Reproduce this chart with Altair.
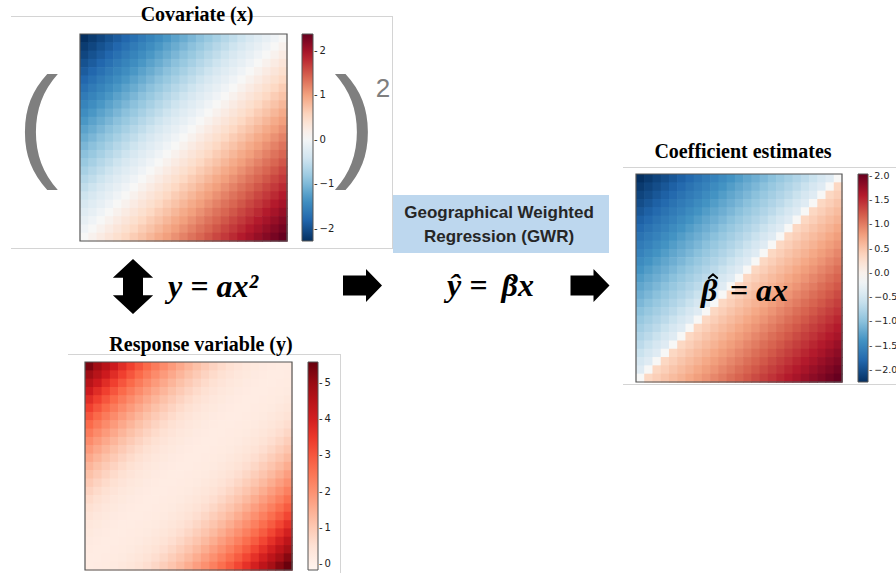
import altair as alt
import pandas as pd

N = 25  # grid cells per side

# values along each anti-diagonal (row + col = k, k = 0..48)
cov_diag = [-2.27, -2.17, -2.08, -1.98, -1.89, -1.79, -1.69, -1.59, -1.50, -1.40,
            -1.30, -1.20, -1.11, -1.01, -0.91, -0.82, -0.72, -0.62, -0.53, -0.43,
            -0.33, -0.23, -0.14, -0.04, 0.06, 0.15, 0.25, 0.35, 0.44, 0.54,
            0.64, 0.73, 0.83, 0.93, 1.02, 1.12, 1.22, 1.32, 1.41, 1.51,
            1.61, 1.70, 1.80, 1.90, 1.99, 2.09, 2.19, 2.28, 2.38]
resp_diag = [5.35, 4.90, 4.50, 4.10, 3.72, 3.36, 3.02, 2.70, 2.40, 2.12,
             1.85, 1.60, 1.37, 1.16, 0.97, 0.80, 0.65, 0.52, 0.41, 0.32,
             0.25, 0.20, 0.17, 0.15, 0.15, 0.16, 0.18, 0.22, 0.28, 0.36,
             0.46, 0.58, 0.73, 0.90, 1.08, 1.29, 1.52, 1.77, 2.03, 2.31,
             2.61, 2.92, 3.26, 3.62, 3.98, 4.38, 4.80, 5.20, 5.55]
coef_diag = [-2.25, -2.17, -2.09, -2.02, -1.94, -1.86, -1.78, -1.70, -1.62, -1.55,
             -1.47, -1.39, -1.31, -1.23, -1.16, -1.08, -1.00, -0.92, -0.84, -0.76,
             -0.68, -0.58, -0.48, -0.38, -0.10, 0.35, 0.42, 0.50, 0.57, 0.64,
             0.72, 0.79, 0.86, 0.94, 1.01, 1.09, 1.16, 1.23, 1.31, 1.38,
             1.45, 1.53, 1.60, 1.67, 1.75, 1.82, 1.89, 1.97, 2.04]

cov_ticks = [-2, -1, 0, 1, 2]
resp_ticks = [0, 1, 2, 3, 4, 5]
coef_ticks = [-2.0, -1.5, -1.0, -0.5, 0.0, 0.5, 1.0, 1.5, 2.0]

cov_domain = [-2.27, 2.38]
resp_domain = [-0.17, 5.58]
coef_domain = [-2.25, 2.04]

# matplotlib colormaps (ColorBrewer RdBu reversed, Reds)
RDBU_R = ["#053061", "#2166ac", "#4393c3", "#92c5de", "#d1e5f0", "#f7f7f7",
          "#fddbc7", "#f4a582", "#d6604d", "#b2182b", "#67001f"]
REDS = ["#fff5f0", "#fee0d2", "#fcbba1", "#fc9272", "#fb6a4a", "#ef3b2c",
        "#cb181d", "#a50f15", "#67000d"]

W, H = 896, 573


def grid(diag):
    recs = []
    for r in range(N):
        for c in range(N):
            recs.append({"row": r, "col": c, "value": diag[r + c]})
    return pd.DataFrame(recs)


def stops(domain, n):
    lo, hi = domain
    return [lo + (hi - lo) * i / (n - 1) for i in range(n)]


def heat(diag, x0, x1, y0, y1, colors, domain, cb_x, cb_w, ticks, fmt, lsize=10):
    lab = "'-\u2009' + replace(format(datum.value, '%s'), '-', '\u2212')" % fmt
    return alt.Chart(grid(diag)).transform_calculate(
        col2="datum.col + 1.08", row2="datum.row + 1.08"
    ).mark_rect(strokeWidth=0).encode(
        x=alt.X("col:Q", scale=alt.Scale(domain=[0, N], range=[x0, x1], nice=False, zero=False), axis=None),
        x2="col2:Q",
        y=alt.Y("row:Q", scale=alt.Scale(domain=[0, N], range=[y0, y1], nice=False, zero=False), axis=None),
        y2="row2:Q",
        color=alt.Color(
            "value:Q",
            scale=alt.Scale(domain=stops(domain, len(colors)), range=colors, nice=False, zero=False,
                            interpolate="rgb"),
            legend=alt.Legend(
                orient="none", legendX=cb_x, legendY=y0, direction="vertical",
                gradientLength=y1 - y0, gradientThickness=cb_w, title=None,
                values=ticks, labelExpr=lab, labelFontSize=lsize, labelFont="DejaVu Sans",
                labelColor="#222222", labelOffset=1, gradientStrokeColor="#555555",
                gradientStrokeWidth=1, padding=0,
            ),
        ),
    )


ONE = alt.Data(values=[{"k": 1}])


def box(x0, x1, y0, y1, fill="white", stroke="#d4d4d4", sw=1.0, fo=1.0):
    return alt.Chart(ONE).mark_rect(fill=fill, fillOpacity=fo, stroke=stroke, strokeWidth=sw).encode(
        x=alt.value(x0), x2=alt.value(x1), y=alt.value(y0), y2=alt.value(y1))


def line(x0, x1, y0, y1, color="#d4d4d4", sw=1.0):
    return alt.Chart(ONE).mark_rule(color=color, strokeWidth=sw).encode(
        x=alt.value(x0), x2=alt.value(x1), y=alt.value(y0), y2=alt.value(y1))


def txt(s, x, y, size, font="Liberation Serif", weight="normal", style="normal",
        color="#000000", align="center"):
    return alt.Chart(ONE).mark_text(
        text=s, fontSize=size, font=font, fontWeight=weight, fontStyle=style,
        color=color, align=align, baseline="alphabetic",
    ).encode(x=alt.value(x), y=alt.value(y))


def shape(path, x, y, size, filled=True, sw=0.0):
    if filled:
        m = alt.Chart(ONE).mark_point(shape=path, size=size, filled=True, color="black",
                                      opacity=1, strokeWidth=0)
    else:
        m = alt.Chart(ONE).mark_point(shape=path, size=size, filled=False, color="black",
                                      opacity=1, strokeWidth=sw, strokeJoin="round", strokeCap="round")
    return m.encode(x=alt.value(x), y=alt.value(y))


right_arrow = "M -0.975 -0.5 L 0.175 -0.5 L 0.175 -0.825 L 0.975 0 L 0.175 0.825 L 0.175 0.5 L -0.975 0.5 Z"
double_arrow = ("M 0 -0.98 L 0.72 -0.31 L 0.357 -0.31 L 0.357 0.31 L 0.72 0.31 L 0 0.98 "
                "L -0.72 0.31 L -0.357 0.31 L -0.357 -0.31 L -0.72 -0.31 Z")
wide_hat = "M -1 0.45 L 0 -0.4 L 1 0.45"

layers = [
    # panel frames (light grey edges of the pasted panels)
    line(11, 392, 16.5, 16.5), line(11, 392, 248.5, 248.5), line(392.5, 392.5, 16, 249),
    line(68, 340, 354.5, 354.5), line(340.5, 340.5, 354, 573),
    line(623, 896, 167.5, 167.5), line(623, 896, 384.5, 384.5),
    # GWR box
    box(393, 609, 195, 253, fill="#bdd7ee", stroke="#bdd7ee", sw=0),
    # heatmaps
    heat(cov_diag, 80, 287, 34, 241, RDBU_R, cov_domain, 302, 11, cov_ticks, "d"),
    heat(resp_diag, 85, 292, 362, 570, REDS, resp_domain, 308, 10, resp_ticks, "d"),
    heat(coef_diag, 636, 842, 174, 382, RDBU_R, coef_domain, 858, 10, coef_ticks, ".1f", 9.5),
    # heatmap outlines
    box(80, 287, 34, 241, fill="white", stroke="#555555", sw=1.2, fo=0),
    box(85, 292, 362, 570, fill="white", stroke="#555555", sw=1.2, fo=0),
    box(636, 842, 174, 382, fill="white", stroke="#555555", sw=1.2, fo=0),
    # titles
    txt("Covariate (x)", 197, 21, 20, weight="bold"),
    txt("Response variable (y)", 201, 351, 20, weight="bold"),
    txt("Coefficient estimates", 743, 158, 20, weight="bold"),
    # parentheses and square
    txt("(", 38, 164, 124, font="Liberation Sans", color="#7f7f7f"),
    txt(")", 355, 164, 124, font="Liberation Sans", color="#7f7f7f"),
    txt("2", 383, 97, 26, font="Liberation Sans", color="#7f7f7f"),
    # GWR label
    txt("Geographical Weighted", 499, 218, 17, font="Liberation Sans", weight="bold", color="#262626"),
    txt("Regression (GWR)", 499, 242, 17, font="Liberation Sans", weight="bold", color="#262626"),
    # equations
    txt("y = ax\u00b2", 168, 297, 32, weight="bold", style="italic", align="left"),
    txt("\u0177 =", 447, 296, 32, weight="bold", style="italic", align="left"),
    txt("\u03b2x", 534, 296, 32, weight="bold", style="italic", align="right"),
    shape(wide_hat, 510, 279, 64, filled=False, sw=1.8),
    txt("\u03b2", 701, 301, 32, weight="bold", style="italic", align="left"),
    txt("= ax", 788, 301, 32, weight="bold", style="italic", align="right"),
    shape(wide_hat, 713, 276, 72, filled=False, sw=1.9),
    # arrows
    shape(double_arrow, 133, 286.5, 3136),
    shape(right_arrow, 362.5, 285.5, 1600),
    shape(right_arrow, 590, 285.5, 1600),
]

chart = alt.layer(*layers).resolve_scale(
    x="independent", y="independent", color="independent"
).properties(
    width=W, height=H, padding=0, autosize=alt.AutoSizeParams(type="none"),
    background="white",
).configure_view(stroke=None)

chart.save("out.html", embed_options={"renderer": "svg", "actions": False})
